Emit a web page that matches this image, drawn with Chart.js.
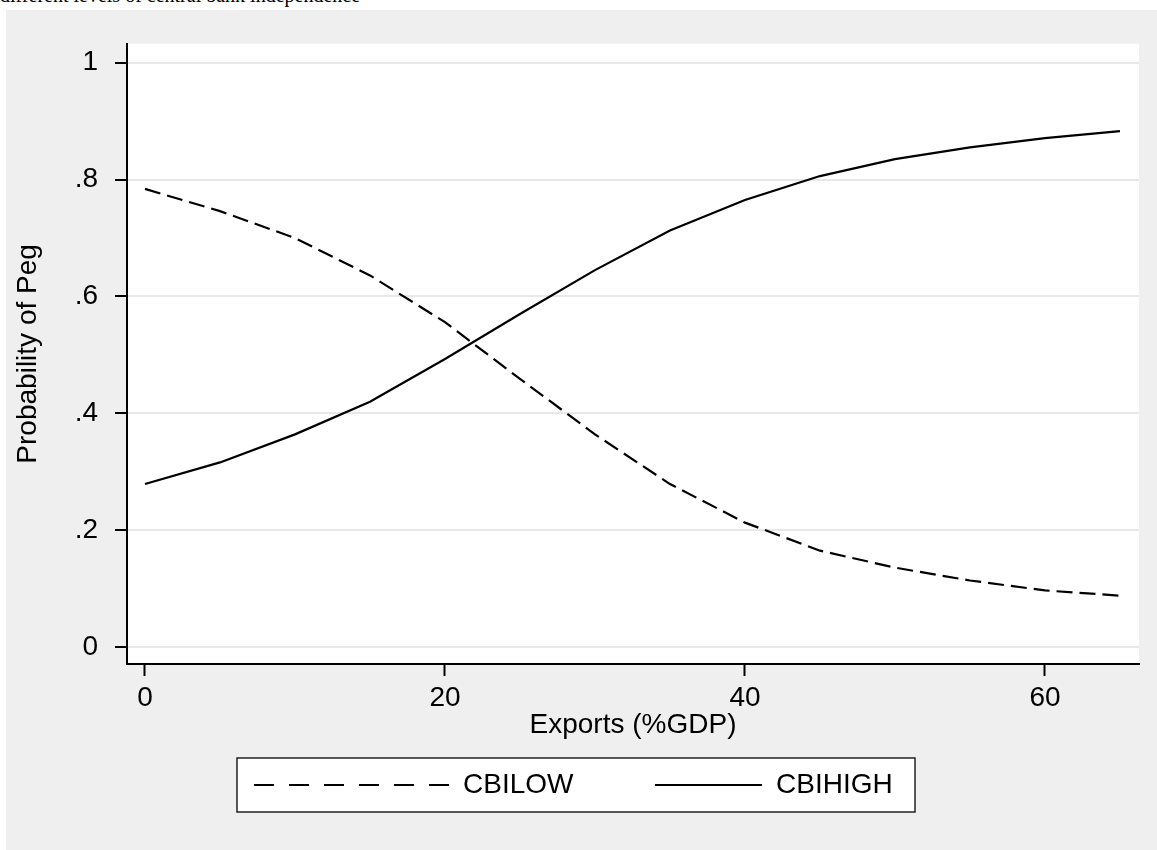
<!DOCTYPE html>
<html>
<head>
<meta charset="utf-8">
<script src="https://cdn.jsdelivr.net/npm/chart.js@4.4.0/dist/chart.umd.min.js"></script>
<style>
  body { margin: 0; background: #fff; width: 1157px; height: 850px; overflow: hidden; position: relative; }
  #caption { position: absolute; left: 0; top: -15px; font: 20px/20px "Liberation Serif", "Times New Roman", serif; white-space: nowrap; color: #000; }
  #frame { position: absolute; left: 6px; top: 10px; width: 1151px; height: 840px; background: #efefef; }
</style>
</head>
<body>
<div id="caption">different levels of central bank independence</div>
<div id="frame"><canvas id="pegChart" width="1151" height="840"></canvas></div>
<script>
// exports share of GDP (x) and predicted probability of a peg
const exportsGdp = [0, 5, 10, 15, 20, 25, 30, 35, 40, 45, 50, 55, 60, 65];
const cbiLow  = [0.784, 0.746, 0.700, 0.636, 0.556, 0.459, 0.364, 0.279, 0.213, 0.165, 0.136, 0.114, 0.097, 0.088];
const cbiHigh = [0.279, 0.316, 0.364, 0.420, 0.493, 0.570, 0.645, 0.713, 0.765, 0.806, 0.835, 0.855, 0.871, 0.883];
const xTicks = [0, 20, 40, 60];
const yTicks = [0, 0.2, 0.4, 0.6, 0.8, 1];

const fontFamily = '"Liberation Sans", Arial, sans-serif';
Chart.defaults.color = '#000';
Chart.defaults.font.family = fontFamily;

function toPoints(ys) {
  return exportsGdp.map((x, i) => ({x: x, y: ys[i]}));
}

function yLabel(v) {
  if (v === 0) return '0';
  if (v === 1) return '1';
  return String(Math.round(v * 10) / 10).replace('0.', '.');
}

// white plot region like stata's plotregion
const plotBg = {
  id: 'plotBg',
  beforeDraw(chart) {
    const {ctx, chartArea} = chart;
    ctx.save();
    ctx.fillStyle = '#fff';
    ctx.fillRect(chartArea.left, chartArea.top, chartArea.right - chartArea.left, chartArea.bottom - chartArea.top);
    ctx.restore();
  }
};

// boxed legend under the x title
const boxLegend = {
  id: 'boxLegend',
  afterDraw(chart) {
    const ctx = chart.ctx;
    const keys = [
      {x0: 248, x1: 450, tx: 457, dash: [20, 15]},
      {x0: 649, x1: 756, tx: 770, dash: []}
    ];
    ctx.save();
    ctx.fillStyle = '#fff';
    ctx.fillRect(231, 748, 678, 54);
    ctx.strokeStyle = '#222';
    ctx.lineWidth = 1.5;
    ctx.strokeRect(231, 748, 678, 54);
    chart.data.datasets.forEach((ds, i) => {
      const k = keys[i];
      ctx.beginPath();
      ctx.setLineDash(k.dash);
      ctx.lineWidth = ds.borderWidth;
      ctx.strokeStyle = ds.borderColor;
      ctx.moveTo(k.x0, 775);
      ctx.lineTo(k.x1, 775);
      ctx.stroke();
      ctx.setLineDash([]);
      ctx.fillStyle = '#000';
      ctx.font = '28px ' + fontFamily;
      ctx.textBaseline = 'middle';
      ctx.textAlign = 'left';
      ctx.fillText(ds.label, k.tx, 775);
    });
    ctx.restore();
  }
};

let ctx = document.querySelector('#pegChart').getContext('2d');
let pegChart = new Chart(ctx, {
  type: 'line',
  data: {
    datasets: [{
      label: 'CBILOW',
      data: toPoints(cbiLow),
      borderColor: '#000',
      borderWidth: 2.2,
      borderDash: [16, 7],
      pointRadius: 0,
      tension: 0,
      fill: false
    }, {
      label: 'CBIHIGH',
      data: toPoints(cbiHigh),
      borderColor: '#000',
      borderWidth: 2.2,
      pointRadius: 0,
      tension: 0,
      fill: false
    }]
  },
  options: {
    responsive: false,
    animation: false,
    layout: {padding: {left: 0, right: 18, top: 30, bottom: 108}},
    plugins: {
      legend: {display: false},
      tooltip: {enabled: false}
    },
    scales: {
      x: {
        type: 'linear',
        min: -1.2,
        max: 66.27,
        afterBuildTicks: s => { s.ticks = xTicks.map(v => ({value: v})); },
        afterFit: s => { s.height = 78; },
        border: {color: '#000', width: 2},
        grid: {drawOnChartArea: false, drawTicks: true, tickLength: 12, tickColor: '#000', tickWidth: 2},
        ticks: {padding: 5, font: {size: 28}, maxRotation: 0},
        title: {display: true, text: 'Exports (%GDP)', font: {size: 28}, padding: {top: 0, bottom: 0}}
      },
      y: {
        type: 'linear',
        min: -0.0289,
        max: 1.0323,
        afterBuildTicks: s => { s.ticks = yTicks.map(v => ({value: v})); },
        afterFit: s => { s.width = 121; },
        border: {color: '#000', width: 2},
        grid: {color: '#e8e8e8', lineWidth: 2, drawTicks: true, tickLength: 12, tickColor: '#000', tickWidth: 2},
        ticks: {padding: 17, font: {size: 28}, callback: v => yLabel(v)},
        title: {display: true, text: 'Probability of Peg', font: {size: 28}, padding: {top: 5, bottom: 0}}
      }
    }
  },
  plugins: [plotBg, boxLegend]
});
</script>
</body>
</html>
